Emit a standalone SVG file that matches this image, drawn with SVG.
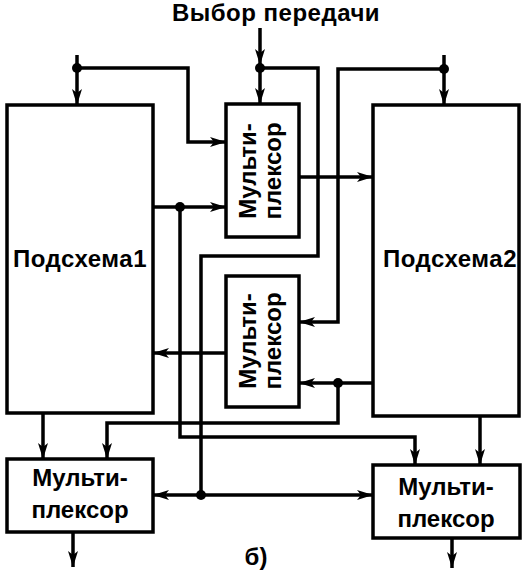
<svg xmlns="http://www.w3.org/2000/svg" width="525" height="575" viewBox="0 0 525 575">
<style>
.box{fill:#fff;stroke:#000;stroke-width:3.5}
.w{fill:none;stroke:#000;stroke-width:3.5;stroke-linejoin:miter;stroke-linecap:butt}
.a{marker-end:url(#ah)}
.t{font-family:"Liberation Sans",Arial,sans-serif;font-size:24px;font-weight:bold;fill:#000;text-anchor:middle}
.s{letter-spacing:0.5px}
.dot{fill:#000}
</style>
<defs>
<marker id="ah" viewBox="0 0 16 10" refX="16" refY="5" markerWidth="16" markerHeight="10" markerUnits="userSpaceOnUse" orient="auto">
<path d="M0,0 L16,5 L0,10 L4,5 z" fill="#000"/>
</marker>
</defs>
<text class="t s" x="276" y="21">Выбор  передачи</text>
<g id="sub1"><rect class="box" x="7" y="105" width="146" height="308"/><text class="t s" x="80" y="267">Подсхема1</text></g>
<g id="sub2"><rect class="box" x="373" y="105" width="146" height="311"/><text class="t s" x="450" y="267">Подсхема2</text></g>
<g id="muxTop"><rect class="box" x="226" y="104" width="73" height="133"/>
<text class="t" transform="translate(256,171) rotate(-90)">Мульти-</text>
<text class="t" transform="translate(281,171) rotate(-90)">плексор</text></g>
<g id="muxMid"><rect class="box" x="226" y="276" width="73" height="131"/>
<text class="t" transform="translate(256,341) rotate(-90)">Мульти-</text>
<text class="t" transform="translate(281,341) rotate(-90)">плексор</text></g>
<g id="muxBL"><rect class="box" x="7" y="459" width="146" height="73"/>
<text class="t" x="80" y="486">Мульти-</text><text class="t" x="80" y="518">плексор</text></g>
<g id="muxBR"><rect class="box" x="373" y="465" width="147" height="73"/>
<text class="t" x="446" y="495">Мульти-</text><text class="t" x="446" y="527">плексор</text></g>
<g id="connectors">
<path class="w a" d="M77 55 V105"/>
<path class="w a" d="M77 68 H188 V142 H226"/>
<path class="w a" d="M260 28 V65"/>
<path class="w a" d="M260 68 V104"/>
<path class="w" d="M260 68 H318 V256 H201 V495"/>
<path class="w a" d="M201 495 H153"/>
<path class="w a" d="M201 495 H373"/>
<path class="w a" d="M444 55 V105"/>
<path class="w a" d="M444 69 H338 V322 H299"/>
<path class="w a" d="M299 177 H373"/>
<path class="w a" d="M153 207 H226"/>
<path class="w a" d="M180 207 V437 H415 V465"/>
<path class="w a" d="M226 353 H153"/>
<path class="w a" d="M373 383 H299"/>
<path class="w a" d="M338 383 V423 H107 V459"/>
<path class="w a" d="M43 413 V459"/>
<path class="w a" d="M480 416 V465"/>
<path class="w a" d="M73 532 V567"/>
<path class="w a" d="M452 538 V568"/>
<circle class="dot" cx="77" cy="68" r="5"/>
<circle class="dot" cx="260" cy="68" r="5"/>
<circle class="dot" cx="444" cy="69" r="5"/>
<circle class="dot" cx="180" cy="207" r="5"/>
<circle class="dot" cx="338" cy="383" r="5"/>
<circle class="dot" cx="201" cy="495" r="5"/>
</g>
<text class="t" x="256" y="565">б)</text>
</svg>
